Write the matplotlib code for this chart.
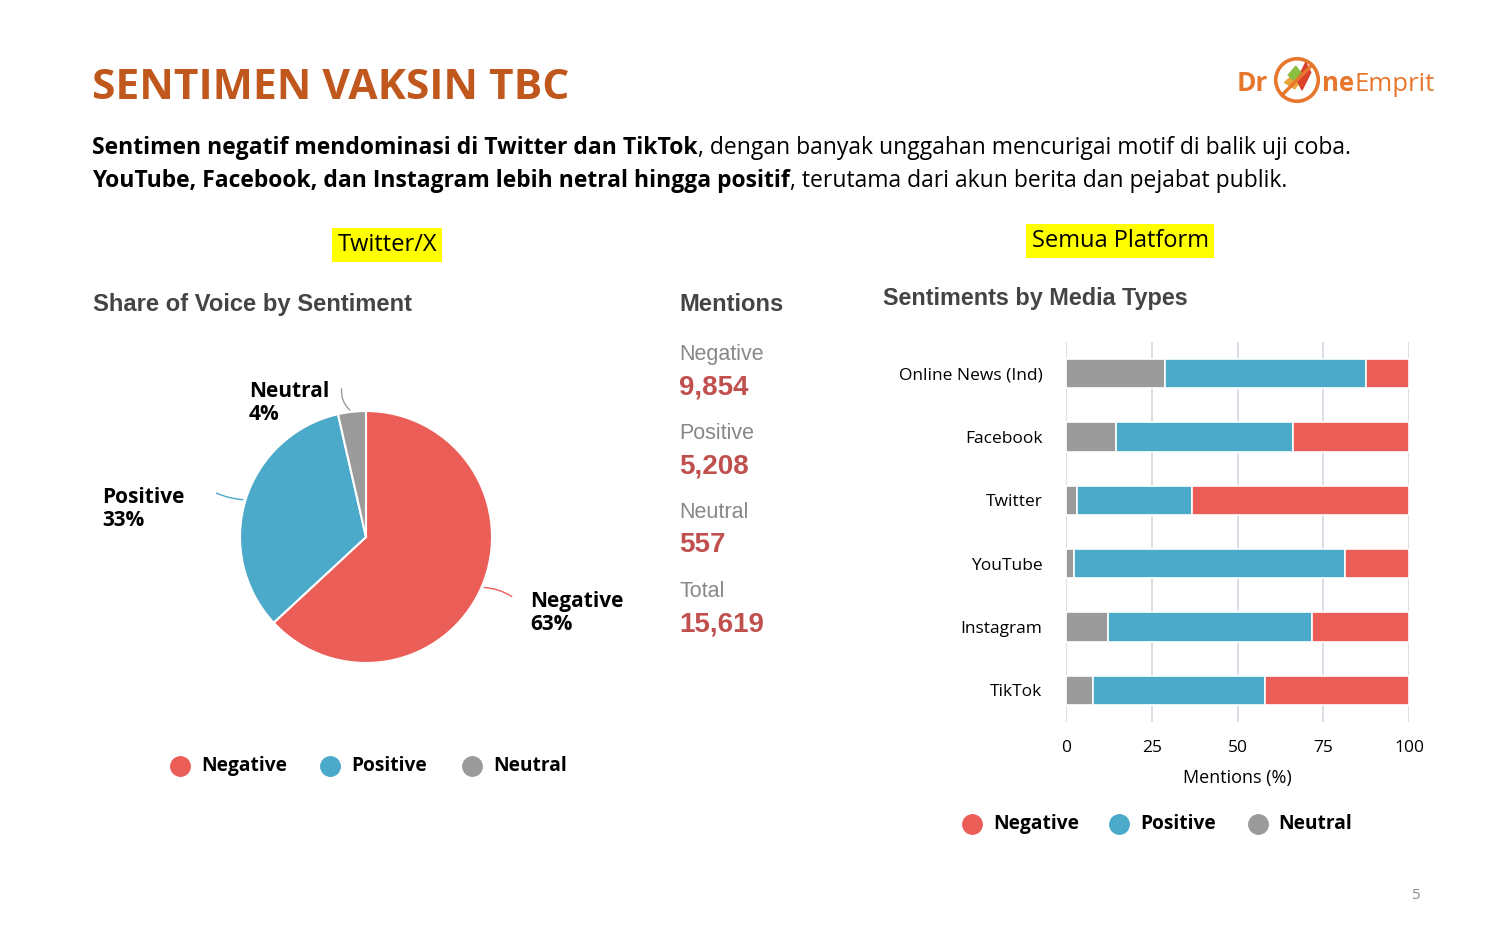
import matplotlib
matplotlib.use("Agg")
import matplotlib.pyplot as plt
from matplotlib.patches import Circle, Rectangle
import numpy as np

# ---------------- data ----------------
pie_labels = ["Negative", "Positive", "Neutral"]
pie_values = [9854, 5208, 557]
total_mentions = 15619

media_types = ["Online News (Ind)", "Facebook", "Twitter", "YouTube", "Instagram", "TikTok"]
neutral_pct = [29.0, 14.6, 3.2, 2.4, 12.3, 7.8]
positive_pct = [58.6, 51.7, 33.4, 78.9, 59.5, 50.1]
negative_pct = [12.4, 33.7, 63.4, 18.7, 28.2, 42.1]
x_ticks = [0, 25, 50, 75, 100]

RED = "#EB5E58"
BLUE = "#4BA9C9"
GRAY = "#9B9B9B"
ORANGE = "#C0571C"
NUMRED = "#C0504D"

W, H = 1500, 938
fig = plt.figure(figsize=(15, 9.38), dpi=100)
fig.patch.set_facecolor("white")


def fx(x):
    return x / W


def fy(y):
    return 1 - y / H


def axes_px(left, top, width, height):
    return fig.add_axes([fx(left), fy(top + height), width / W, height / H])


BODY = ["Open Sans", "DejaVu Sans"]
ARIAL = ["Liberation Sans", "DejaVu Sans"]

renderer = fig.canvas.get_renderer()

# ---------------- header ----------------
fig.text(fx(92), fy(99), "SENTIMEN VAKSIN TBC", family=BODY, weight="bold",
         fontsize=30.6, color=ORANGE, va="baseline", ha="left")


def chain(x, y, parts, size, color="black"):
    cur = x
    for txt, w in parts:
        t = fig.text(fx(cur), fy(y), txt, family=BODY, weight=w, fontsize=size,
                     color=color, va="baseline", ha="left")
        bb = t.get_window_extent(renderer=renderer)
        cur += bb.width
    return cur


chain(92, 154, [("Sentimen negatif mendominasi di Twitter dan TikTok", "bold"),
                (", dengan banyak unggahan mencurigai motif di balik uji coba.", "normal")], 16.5)
chain(92, 187, [("YouTube, Facebook, dan Instagram lebih netral hingga positif", "bold"),
                (", terutama dari akun berita dan pejabat publik.", "normal")], 16.5)

# logo
logo_c = "#E8772E"
fig.text(fx(1237), fy(91), "Dr", family=BODY, weight="bold", fontsize=19, color=logo_c,
         va="baseline", ha="left")
chain(1322, 91, [("ne", "bold"), ("Emprit", "normal")], 18.5, color=logo_c)
lax = axes_px(1272, 55, 50, 50)
lax.set_xlim(-1, 1)
lax.set_ylim(-1, 1)
lax.axis("off")
lax.add_patch(Circle((0, 0), 0.85, fill=False, ec=logo_c, lw=2.6))
lax.plot([-0.6, 0.6], [-0.6, 0.6], color=logo_c, lw=2.4)
lax.fill([-0.5, 0.0, 0.3, -0.1], [-0.1, 0.35, 0.1, -0.35], color="#E9A63A")
lax.fill([0.0, 0.35, 0.55, 0.2], [0.0, 0.7, 0.3, -0.4], color="#D9412B")
lax.fill([-0.35, -0.05, 0.15, -0.15], [0.2, 0.55, 0.3, 0.0], color="#8DBE3F")

# ---------------- section tags ----------------
for cx_, cy_, txt in [(387, 245, "Twitter/X"), (1120, 241, "Semua Platform")]:
    fig.text(fx(cx_), fy(cy_), txt, family=BODY, fontsize=17, color="black", ha="center", va="center",
             bbox=dict(boxstyle="square,pad=0.22", fc="#FFFF00", ec="none"))

# ---------------- pie ----------------
fig.text(fx(93), fy(311), "Share of Voice by Sentiment", family=ARIAL, weight="bold",
         fontsize=17.1, color="#444444", va="baseline")
cx, cy, r = 366, 537, 126
pax = axes_px(cx - r, cy - r, 2 * r, 2 * r)
wedges, _ = pax.pie(pie_values, colors=[RED, BLUE, GRAY], startangle=90, counterclock=False,
                    wedgeprops=dict(edgecolor="white", linewidth=1.5))
pax.set_xlim(-1, 1)
pax.set_ylim(-1, 1)
pax.set_aspect("equal")
pax.axis("off")

pcts = [v / sum(pie_values) * 100 for v in pie_values]
label_pos = {"Negative": (530, 601), "Positive": (102, 497), "Neutral": (249, 391)}
line_end = {"Negative": (514, 598), "Positive": (214, 492), "Neutral": (342, 386)}
line_col = {"Negative": RED, "Positive": BLUE, "Neutral": GRAY}
rads = {"Negative": 0.15, "Positive": 0.1, "Neutral": 0.3}
for w, lab, p in zip(wedges, pie_labels, pcts):
    ang = np.deg2rad((w.theta1 + w.theta2) / 2)
    px_, py_ = np.cos(ang), np.sin(ang)
    ex, ey = line_end[lab]
    exd = ((ex - (cx - r)) / r) - 1
    eyd = 1 - ((ey - (cy - r)) / r)
    pax.annotate("", xy=(px_, py_), xytext=(exd, eyd), xycoords="data", textcoords="data",
                 arrowprops=dict(arrowstyle="-", color=line_col[lab], lw=1.0,
                                 connectionstyle=f"arc3,rad={rads[lab]}"),
                 annotation_clip=False)
    lx, ly = label_pos[lab]
    fig.text(fx(lx), fy(ly), lab, family=BODY, weight="bold", fontsize=15,
             color="black", ha="left", va="center")
    fig.text(fx(lx), fy(ly + 23), f"{p:.0f}%", family=BODY, weight="bold", fontsize=15,
             color="black", ha="left", va="center")

# pie legend
for (mx, tx), lab, col in zip([(180, 201), (330, 351), (472, 493)], pie_labels, [RED, BLUE, GRAY]):
    fig.add_artist(plt.Line2D([fx(mx)], [fy(766)], marker="o", markersize=14, color=col,
                              transform=fig.transFigure))
    fig.text(fx(tx), fy(766), lab, family=BODY, weight="bold", fontsize=13.8, color="black",
             va="center", ha="left")

# ---------------- mentions ----------------
fig.text(fx(679), fy(311), "Mentions", family=ARIAL, weight="bold", fontsize=17.1,
         color="#444444", va="baseline")
m_labels = pie_labels + ["Total"]
m_values = pie_values + [total_mentions]
for i, (lab, val) in enumerate(zip(m_labels, m_values)):
    y0 = 353 + i * 79
    fig.text(fx(679), fy(y0 + 7), lab, family=ARIAL, fontsize=15.5, color="#888888", va="baseline")
    fig.text(fx(679), fy(y0 + 41), f"{val:,}", family=ARIAL, weight="bold", fontsize=20,
             color=NUMRED, va="baseline")

# ---------------- stacked bars ----------------
fig.text(fx(883), fy(305), "Sentiments by Media Types", family=ARIAL, weight="bold",
         fontsize=16.8, color="#444444", va="baseline")
bax = axes_px(1066, 342, 343, 380)
yp = np.arange(len(media_types))
neu = np.array(neutral_pct)
pos = np.array(positive_pct)
neg = np.array(negative_pct)
bh = 0.46
bax.barh(yp, neu, height=bh, color=GRAY, edgecolor="white", linewidth=1.2, zorder=3)
bax.barh(yp, pos, left=neu, height=bh, color=BLUE, edgecolor="white", linewidth=1.2, zorder=3)
bax.barh(yp, neg, left=neu + pos, height=bh, color=RED, edgecolor="white", linewidth=1.2, zorder=3)
bax.set_xlim(0, 100)
bax.set_ylim(len(media_types) - 0.5, -0.5)
bax.set_xticks(x_ticks)
bax.set_xticklabels([str(t) for t in x_ticks], family=BODY, fontsize=12.5)
bax.set_yticks(yp)
bax.set_yticklabels(media_types, family=BODY, fontsize=12.5)
bax.tick_params(axis="x", length=0, pad=13)
bax.tick_params(axis="y", length=0, pad=17)
bax.grid(axis="x", color="#D3D9E0", lw=1.2, zorder=0)
for s in bax.spines.values():
    s.set_visible(False)
bax.set_xlabel("Mentions (%)", family=BODY, fontsize=13, labelpad=9)

for (mx, tx), lab, col in zip([(972, 993), (1119, 1140), (1258, 1278)], pie_labels, [RED, BLUE, GRAY]):
    fig.add_artist(plt.Line2D([fx(mx)], [fy(824)], marker="o", markersize=14, color=col,
                              transform=fig.transFigure))
    fig.text(fx(tx), fy(824), lab, family=BODY, weight="bold", fontsize=13.8, color="black",
             va="center", ha="left")

fig.text(fx(1415), fy(895), "5", family=BODY, fontsize=11, color="#8A8A8A", ha="center", va="center")

fig.savefig("out.png", dpi=100, facecolor="white")
